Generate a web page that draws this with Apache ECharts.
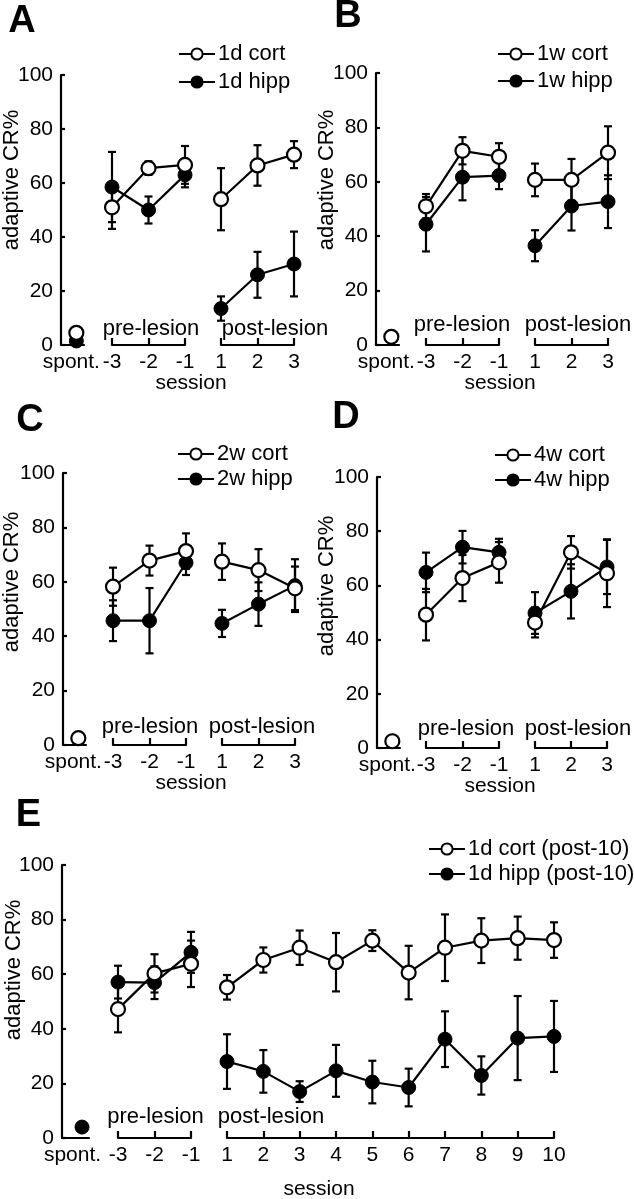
<!DOCTYPE html>
<html>
<head>
<meta charset="utf-8">
<script src="https://cdn.jsdelivr.net/npm/echarts@6/dist/echarts.min.js"></script>
<style>
html,body{margin:0;padding:0;background:#fff;}
#chart{width:634px;height:1199px;}
</style>
</head>
<body>
<div id="chart"></div>
<script>
// ---------- DATA ----------
const spontLabel = 'spont.';
const sessionsPre = [-3, -2, -1];
const sessionsPost = [1, 2, 3];
const sessionsPostE = [1, 2, 3, 4, 5, 6, 7, 8, 9, 10];
// order of values: spont, pre (-3,-2,-1), post (1..n)
const cortA    = [4.5, 51, 65.5, 66.7, 54, 66.5, 70.5];
const cortErrA = [0, 8, 2.5, 7, 11.5, 7.5, 5];
const hippA    = [1.5, 58.5, 50, 63, 13.5, 26, 30];
const hippErrA = [0, 13, 5, 4.6, 4.5, 8.5, 12];

const cortB    = [3, 51, 71.4, 69.2, 60.7, 60.7, 70.7];
const cortErrB = [0, 4.5, 5, 5, 6, 7.7, 9.7];
const hippB    = [3, 44.4, 61.7, 62.3, 36.5, 51.1, 52.7];
const hippErrB = [0, 10, 8.5, 5, 5.7, 9, 9.7];

const cortC    = [2.5, 58.2, 67.8, 71.3, 67.4, 64.3, 57.6];
const cortErrC = [0, 7, 5.5, 6.5, 6.7, 7.7, 8];
const hippC    = [2.5, 45.7, 45.7, 67, 44.7, 51.8, 58.6];
const hippErrC = [0, 7.5, 12, 4.5, 5, 8, 9.7];

const cortD    = [2.5, 49.2, 62.7, 68.5, 46.3, 72.2, 64.5];
const cortErrD = [0, 9.5, 8.5, 7.5, 5.5, 6, 12.5];
const hippD    = [2.5, 64.8, 74.1, 72.2, 49.8, 57.8, 66.8];
const hippErrD = [0, 7.3, 6, 5, 7.7, 10, 10];

const cortE    = [null, 47.2, 60.3, 63.8, 55.2, 65.2, 69.7, 64.4, 72.3, 60.6, 69.7, 72.3, 73.2, 72.5];
const cortErrE = [0, 8.5, 7, 8.5, 4.5, 4.6, 6.3, 10.7, 3.8, 9.8, 12.2, 8.2, 7.9, 6.5];
const hippE    = [4, 57.1, 56.9, 68, 28, 24.4, 17, 24.6, 20.5, 18.5, 36.2, 22.9, 36.6, 37.2];
const hippErrE = [0, 6, 6, 7.5, 10, 7.8, 3.8, 9.5, 7.8, 6.9, 10.2, 7, 15.4, 13];

const panelLetters = ['A', 'B', 'C', 'D', 'E'];
const cortNames = ['1d cort', '1w cort', '2w cort', '4w cort', '1d cort (post-10)'];
const hippNames = ['1d hipp', '1w hipp', '2w hipp', '4w hipp', '1d hipp (post-10)'];

// ---------- LAYOUT ----------
const FONT = '"Liberation Sans", Arial, Helvetica, sans-serif';
const layouts = [
  {axisX:61, spontR:84, spontMax:0.5, spontShift:10, preL:112, preR:185, postL:221, postR:294, top:75, bottom:345,
   letter:[22,22], ylab:[11.5,180], sess:[191,383], preLab:[151,329], postLab:[275,329], legend:[178,43], legGap:6},
  {axisX:376, spontR:399, spontMax:0.5, spontShift:10, preL:426, preR:499, postL:535, postR:608, top:73, bottom:345,
   letter:[348,17], ylab:[326.5,180], sess:[500,383], preLab:[462,325], postLab:[578,325], legend:[497,43], legGap:5},
  {axisX:63, spontR:86, spontMax:0.5, spontShift:10, preL:113, preR:186, postL:222, postR:295, top:473, bottom:745,
   letter:[30,421], ylab:[11.5,582], sess:[191,783], preLab:[150,727], postLab:[262,727], legend:[177,443], legGap:3},
  {axisX:377, spontR:400, spontMax:0.5, spontShift:10, preL:426, preR:499, postL:535, postR:607, top:477, bottom:748,
   letter:[346,418], ylab:[326.5,586], sess:[500,786], preLab:[466,729], postLab:[578,729], legend:[494,444], legGap:3},
  {axisX:62, spontR:89, spontMax:0.35, spontShift:19, preL:118, preR:191, postL:227, postR:554, top:865, bottom:1138,
   letter:[28.5,816], ylab:[13.5,970], sess:[319,1189], preLab:[155.5,1117], postLab:[271,1117], legend:[428,838], legGap:3}
];

const panelData = [
  {cort:cortA, cortErr:cortErrA, hipp:hippA, hippErr:hippErrA, post:sessionsPost},
  {cort:cortB, cortErr:cortErrB, hipp:hippB, hippErr:hippErrB, post:sessionsPost},
  {cort:cortC, cortErr:cortErrC, hipp:hippC, hippErr:hippErrC, post:sessionsPost},
  {cort:cortD, cortErr:cortErrD, hipp:hippD, hippErr:hippErrD, post:sessionsPost},
  {cort:cortE, cortErr:cortErrE, hipp:hippE, hippErr:hippErrE, post:sessionsPostE}
];

const BLACK = '#000';
const LW = 2.2;
const SYM = 14;
const axisLineStyle = {color: BLACK, width: LW};

function errRender(params, api) {
  const x = api.value(0), y = api.value(1), e = api.value(2);
  if (y == null || isNaN(y) || !(e > 0)) return {type: 'group', children: []};
  const t = api.coord([x, y + e]);
  const b = api.coord([x, y - e]);
  const hw = 4;
  const st = {stroke: BLACK, lineWidth: LW};
  return {type: 'group', children: [
    {type: 'line', shape: {x1: t[0], y1: t[1], x2: b[0], y2: b[1]}, style: st},
    {type: 'line', shape: {x1: t[0] - hw, y1: t[1], x2: t[0] + hw, y2: t[1]}, style: st},
    {type: 'line', shape: {x1: b[0] - hw, y1: b[1], x2: b[0] + hw, y2: b[1]}, style: st}
  ]};
}

const grids = [], xAxes = [], yAxes = [], series = [], legends = [], graphics = [];

panelData.forEach((P, pi) => {
  const L = layouts[pi];
  const h = L.bottom - L.top;
  const segs = [
    {kind: 'spont', xs: [0], left: L.axisX, right: L.spontR, from: 0, to: 1},
    {kind: 'pre', xs: sessionsPre, left: L.preL, right: L.preR, from: 1, to: 4},
    {kind: 'post', xs: P.post, left: L.postL, right: L.postR, from: 4, to: 4 + P.post.length}
  ];
  segs.forEach(s => {
    const gi = grids.length;
    grids.push({left: s.left, top: L.top, width: s.right - s.left, height: h});
    if (s.kind === 'spont') {
      xAxes.push({gridIndex: gi, type: 'value', min: -1, max: L.spontMax, interval: 1,
        axisLine: {show: true, onZero: false, lineStyle: axisLineStyle}, axisTick: {show: false}, splitLine: {show: false},
        axisLabel: {formatter: v => (v === 0 ? spontLabel : ''), fontSize: 21, color: BLACK, margin: 7, fontFamily: FONT,
          padding: [0, L.spontShift, 0, 0]}});
      yAxes.push({gridIndex: gi, type: 'value', min: 0, max: 100, interval: 20,
        axisLine: {show: true, onZero: false, lineStyle: axisLineStyle},
        axisTick: {show: true, inside: true, length: 4, lineStyle: axisLineStyle},
        splitLine: {show: false},
        axisLabel: {fontSize: 21, color: BLACK, margin: 8, fontFamily: FONT}});
    } else {
      xAxes.push({gridIndex: gi, type: 'value', min: s.xs[0], max: s.xs[s.xs.length - 1], interval: 1,
        axisLine: {show: true, onZero: false, lineStyle: axisLineStyle},
        axisTick: {show: true, inside: true, length: 7, lineStyle: axisLineStyle},
        splitLine: {show: false},
        axisLabel: {fontSize: 21, color: BLACK, margin: 7, fontFamily: FONT, showMinLabel: true, showMaxLabel: true}});
      yAxes.push({gridIndex: gi, type: 'value', min: 0, max: 100, show: false, splitLine: {show: false}});
    }
    const hippVals = P.hipp.slice(s.from, s.to);
    const hippErr = P.hippErr.slice(s.from, s.to);
    const cortVals = P.cort.slice(s.from, s.to);
    const cortErr = P.cortErr.slice(s.from, s.to);
    const hd = s.xs.map((x, i) => [x, hippVals[i], hippErr[i]]).filter(d => d[1] != null);
    const cd = s.xs.map((x, i) => [x, cortVals[i], cortErr[i]]).filter(d => d[1] != null);
    series.push({type: 'custom', name: hippNames[pi] + ' err', xAxisIndex: gi, yAxisIndex: gi,
      renderItem: errRender, data: hd, encode: {x: 0, y: 1}, clip: false, z: 2, silent: true});
    series.push({type: 'custom', name: cortNames[pi] + ' err', xAxisIndex: gi, yAxisIndex: gi,
      renderItem: errRender, data: cd, encode: {x: 0, y: 1}, clip: false, z: 2, silent: true});
    series.push({type: 'line', name: hippNames[pi], xAxisIndex: gi, yAxisIndex: gi,
      data: hd.map(d => [d[0], d[1]]), symbol: 'circle', symbolSize: SYM, clip: false, z: 3,
      lineStyle: {color: BLACK, width: LW}, itemStyle: {color: BLACK, borderColor: BLACK, borderWidth: 1},
      emphasis: {disabled: true}, animation: false});
    series.push({type: 'line', name: cortNames[pi], xAxisIndex: gi, yAxisIndex: gi,
      data: cd.map(d => [d[0], d[1]]), symbol: 'circle', symbolSize: SYM, clip: false, z: 4,
      lineStyle: {color: BLACK, width: LW}, itemStyle: {color: '#fff', borderColor: BLACK, borderWidth: 2.2},
      emphasis: {disabled: true}, animation: false});
  });

  legends.push({data: [cortNames[pi], hippNames[pi]], orient: 'vertical', left: L.legend[0], top: L.legend[1],
    padding: 0, itemGap: L.legGap, itemWidth: 36, itemHeight: 14, selectedMode: false,
    textStyle: {fontSize: 22, color: BLACK, fontFamily: FONT, lineHeight: 20, padding: [0, 0, 0, -2]}});

  graphics.push({type: 'text', x: L.letter[0], y: L.letter[1],
    style: {text: panelLetters[pi], font: 'bold 38px ' + FONT, fill: BLACK, align: 'center', verticalAlign: 'middle'}});
  graphics.push({type: 'text', x: L.ylab[0], y: L.ylab[1], rotation: Math.PI / 2,
    style: {text: 'adaptive CR%', font: '22px ' + FONT, fill: BLACK, align: 'center', verticalAlign: 'middle'}});
  graphics.push({type: 'text', x: L.sess[0], y: L.sess[1],
    style: {text: 'session', font: '21px ' + FONT, fill: BLACK, align: 'center', verticalAlign: 'middle'}});
  graphics.push({type: 'text', x: L.preLab[0], y: L.preLab[1],
    style: {text: 'pre-lesion', font: '22px ' + FONT, fill: BLACK, align: 'center', verticalAlign: 'middle'}});
  graphics.push({type: 'text', x: L.postLab[0], y: L.postLab[1],
    style: {text: 'post-lesion', font: '22px ' + FONT, fill: BLACK, align: 'center', verticalAlign: 'middle'}});
});

const chart = echarts.init(document.getElementById('chart'), null, {renderer: 'canvas'});
chart.setOption({
  animation: false,
  backgroundColor: '#fff',
  textStyle: {fontFamily: FONT},
  grid: grids,
  xAxis: xAxes,
  yAxis: yAxes,
  legend: legends,
  series: series,
  graphic: graphics
});
</script>
</body>
</html>
